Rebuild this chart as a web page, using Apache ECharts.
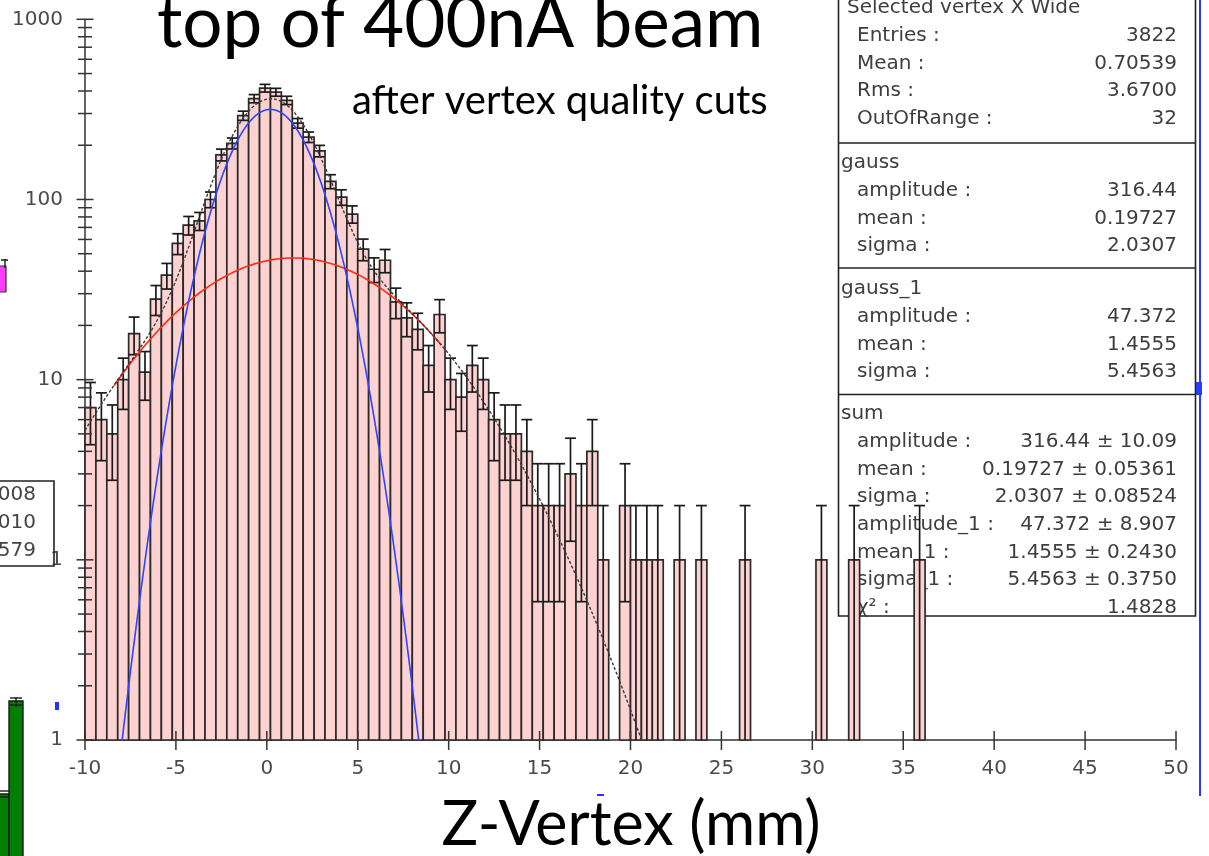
<!DOCTYPE html>
<html>
<head>
<meta charset="utf-8">
<title>Z-Vertex (mm)</title>
<script src="https://cdn.jsdelivr.net/npm/echarts@6/dist/echarts.min.js"></script>
<style>
  html, body { margin: 0; padding: 0; background: #ffffff; }
  #chart { width: 1209px; height: 856px; }
</style>
</head>
<body>
<div id="chart"></div>
<script>
// ---- Histogram: selected vertex z, 100 bins of 0.6 mm between -10 and 50 mm ----
const binStart = -10;
const binWidth = 0.6;
const counts = [
  7, 6, 5, 10, 18, 11, 28, 38, 57, 72,
  76, 100, 177, 205, 292, 363, 415, 394, 355, 265,
  222, 186, 126, 103, 83, 53, 41, 46, 27, 22,
  19, 12, 23, 10, 8, 12, 10, 6, 5, 5,
  4, 2, 2, 2, 3, 2, 4, 1, 0, 2,
  1, 1, 1, 0, 1, 0, 1, 0, 0, 0,
  1, 0, 0, 0, 0, 0, 0, 1, 0, 0,
  1, 0, 0, 0, 0, 0, 1, 0, 0, 0,
  0, 0, 0, 0, 0, 0, 0, 0, 0, 0,
  0, 0, 0, 0, 0, 0, 0, 0, 0, 0
];

// ---- Fit results: [amplitude, mean, sigma] ----
const gaussFit = [316.44, 0.19727, 2.0307];
const gauss1Fit = [47.372, 1.4555, 5.4563];

// ---- Axes ----
const xTicks = [-10, -5, 0, 5, 10, 15, 20, 25, 30, 35, 40, 45, 50];
const yDecades = [0.1, 1, 10, 100, 1000];
const xRange = [-10, 50];
const yRange = [0.1, 1000];
// x span over which each fitted curve is drawn
const sumSpan = [-10, 50];
const gaussSpan = [-10, 50];
const gauss1Span = [-8.4, 9.6];

// ---- Statistics box text ----
const statsHeader = 'Selected vertex X Wide';
const statsRows = [['Entries :', '3822'], ['Mean :', '0.70539'], ['Rms :', '3.6700'], ['OutOfRange :', '32']];
const gaussRows = [['amplitude :', '316.44'], ['mean :', '0.19727'], ['sigma :', '2.0307']];
const gauss1Rows = [['amplitude :', '47.372'], ['mean :', '1.4555'], ['sigma :', '5.4563']];
const sumRows = [
  ['amplitude :', '316.44 ± 10.09'],
  ['mean :', '0.19727 ± 0.05361'],
  ['sigma :', '2.0307 ± 0.08524'],
  ['amplitude_1 :', '47.372 ± 8.907'],
  ['mean_1 :', '1.4555 ± 0.2430'],
  ['sigma_1 :', '5.4563 ± 0.3750'],
  ['χ² :', '1.4828']
];

// ---- Derived series data ----
const histData = [];
counts.forEach(function (n, i) {
  if (n > 0) histData.push([binStart + i * binWidth, binStart + (i + 1) * binWidth, n]);
});

function gaussian(p, x) {
  const t = (x - p[1]) / p[2];
  return p[0] * Math.exp(-0.5 * t * t);
}
// evaluate a fitted function on a 0.05 mm step inside its span
function curve(fn, span) {
  const pts = [];
  const steps = Math.round((span[1] - span[0]) / 0.05);
  for (let k = 0; k <= steps; k++) {
    const x = span[0] + k * 0.05;
    const y = fn(x);
    if (y >= 0.02) pts.push([x, y]);
  }
  return pts;
}
const blueCurve = curve(function (x) { return gaussian(gaussFit, x); }, gaussSpan);
const redCurve = curve(function (x) { return gaussian(gauss1Fit, x); }, gauss1Span);
const sumCurve = curve(function (x) { return gaussian(gaussFit, x) + gaussian(gauss1Fit, x); }, sumSpan);

const yMinorTicks = [];
yDecades.slice(0, -1).forEach(function (d) {
  for (let m = 2; m <= 9; m++) yMinorTicks.push(d * m);
});
const yTickData = yDecades.map(function (v) { return [xRange[0], v, 1]; })
  .concat(yMinorTicks.map(function (v) { return [xRange[0], v, 0]; }));
const xTickData = xTicks.map(function (v) { return [v, yRange[0]]; });

// ---- Styles ----
const BAR_FILL = '#ffd2d2';
const BAR_EDGE = '#2a2a2a';
const INK = '#1a1a1a';
const AXIS = '#333333';
const LABEL = '#4a4a4a';
const statFont = '20px "DejaVu Sans"';

function renderBin(params, api) {
  const x0 = api.value(0), x1 = api.value(1), n = api.value(2);
  const top = api.coord([x0, n]);
  const base = api.coord([x1, yRange[0]]);
  const err = Math.sqrt(n);
  const xc = (x0 + x1) / 2;
  const hi = api.coord([xc, n + err]);
  const lo = api.coord([xc, Math.max(n - err, yRange[0])]);
  const left = top[0], right = base[0];
  const lineStyle = { stroke: INK, lineWidth: 1.7 };
  const children = [
    { type: 'rect', shape: { x: left, y: top[1], width: right - left, height: base[1] - top[1] },
      style: { fill: BAR_FILL, stroke: BAR_EDGE, lineWidth: 1.7 } },
    { type: 'line', shape: { x1: hi[0], y1: hi[1], x2: lo[0], y2: lo[1] }, style: lineStyle },
    { type: 'line', shape: { x1: left, y1: hi[1], x2: right, y2: hi[1] }, style: lineStyle }
  ];
  if (n - err > yRange[0]) {
    children.push({ type: 'line', shape: { x1: left, y1: lo[1], x2: right, y2: lo[1] }, style: lineStyle });
  }
  return { type: 'group', children: children };
}

function renderYTick(params, api) {
  const p = api.coord([api.value(0), api.value(1)]);
  const half = api.value(2) ? 8.5 : 7;
  return { type: 'line', shape: { x1: p[0] - half, y1: p[1], x2: p[0] + half, y2: p[1] },
           style: { stroke: AXIS, lineWidth: 1.5 } };
}
function renderXTick(params, api) {
  const p = api.coord([api.value(0), api.value(1)]);
  return { type: 'line', shape: { x1: p[0], y1: p[1] - 9, x2: p[0], y2: p[1] + 10 },
           style: { stroke: AXIS, lineWidth: 1.5 } };
}

// ---- Graphic: statistics box, titles and the edges of neighbouring panels ----
const graphics = [];
function txt(text, x, y, font, fill, align, z) {
  graphics.push({ type: 'text', silent: true, z: z || 1,
    style: { text: text, x: x, y: y, font: font, fill: fill, textAlign: align || 'left', textVerticalAlign: 'middle' } });
}
function seg(x1, y1, x2, y2, color, w, z) {
  graphics.push({ type: 'line', silent: true, z: z || 1,
    shape: { x1: x1, y1: y1, x2: x2, y2: y2 }, style: { stroke: color, lineWidth: w } });
}
function box(x, y, w, h, fill, stroke, lw, z) {
  graphics.push({ type: 'rect', silent: true, z: z || 1,
    shape: { x: x, y: y, width: w, height: h }, style: { fill: fill, stroke: stroke, lineWidth: lw } });
}

const boxL = 838.5, boxR = 1195.5, labelX = 857, valueX = 1177, pitch = 27.7;
const STAT_INK = '#3e3e3e';
box(boxL, -2, boxR - boxL, 618, 'rgba(0,0,0,0)', '#222', 1.6, 1);
seg(boxL, 143, boxR, 143, '#222', 1.6);
seg(boxL, 268, boxR, 268, '#222', 1.6);
seg(boxL, 394.5, boxR, 394.5, '#222', 1.6);

function section(header, hx, hy, rows) {
  txt(header, hx, hy, statFont, STAT_INK);
  rows.forEach(function (r, i) {
    const y = hy + pitch * (i + 1);
    txt(r[0], labelX, y, statFont, STAT_INK, 'left');
    txt(r[1], valueX, y, statFont, STAT_INK, 'right');
  });
}
section(statsHeader, 847, 8, statsRows);
section('gauss', 841, 163, gaussRows);
section('gauss_1', 841, 289, gauss1Rows);
section('sum', 841, 414, sumRows);

// titles
txt('top of 400nA beam', 157, 24, '71px Lato', '#000', 'left', 10);
txt('after vertex quality cuts', 352, 101, '40px Lato', '#000', 'left', 10);
txt('Z-Vertex (mm)', 631, 825, '61px Lato', '#000', 'center', 10);

// neighbouring panel edges
box(-2, 266, 8, 26, '#ff3cff', '#333', 1.2);
seg(5, 259, 5, 268, '#222', 1.5);
seg(1, 260, 8, 260, '#222', 1.5);
box(-2, 481, 56, 85, 'rgba(0,0,0,0)', '#222', 1.6);
txt('008', 36, 495, statFont, '#444', 'right');
txt('010', 36, 523, statFont, '#444', 'right');
txt('579', 36, 551, statFont, '#444', 'right');
box(-2, 794, 11, 70, '#008000', '#1a1a1a', 1.4);
box(9, 701, 14, 163, '#008000', '#1a1a1a', 1.4);
seg(0, 791, 9, 791, '#1a1a1a', 1.4);
seg(0, 797, 9, 797, '#1a1a1a', 1.4);
seg(10, 698, 22, 698, '#1a1a1a', 1.4);
seg(10, 705, 22, 705, '#1a1a1a', 1.4);
seg(16, 697, 16, 707, '#1a1a1a', 1.4);
box(55, 702, 4, 8, '#2233ff', null, 0);
seg(597, 795, 604, 795, '#2233ff', 2);
seg(1200, 0, 1200, 796, '#2a3cff', 2);
box(1196, 382, 6, 13, '#2a3cff', null, 0);

const chart = echarts.init(document.getElementById('chart'), null, { renderer: 'canvas' });
chart.setOption({
  animation: false,
  backgroundColor: '#ffffff',
  grid: { left: 85, right: 33, top: 19.3, bottom: 116, containLabel: false, outerBoundsMode: 'none' },
  xAxis: {
    type: 'value', min: xRange[0], max: xRange[1], interval: 5,
    axisLine: { show: true, onZero: false, lineStyle: { color: AXIS, width: 1.5 } },
    axisTick: { show: false },
    splitLine: { show: false },
    axisLabel: { color: LABEL, fontFamily: 'DejaVu Sans', fontSize: 20, margin: 19 }
  },
  yAxis: {
    type: 'log', logBase: 10, min: yRange[0], max: yRange[1],
    axisLine: { show: true, onZero: false, lineStyle: { color: AXIS, width: 1.5 } },
    axisTick: { show: false },
    splitLine: { show: false },
    axisLabel: {
      color: LABEL, fontFamily: 'DejaVu Sans', fontSize: 20, margin: 22,
      formatter: function (v) { return v < 1 ? '1' : String(Math.round(v)); }
    }
  },
  graphic: { elements: graphics },
  series: [
    { type: 'custom', name: 'histogram', renderItem: renderBin, data: histData, z: 3, silent: true },
    { type: 'line', name: 'gauss_1', data: redCurve, showSymbol: false, z: 4, silent: true,
      lineStyle: { color: '#ff2a10', width: 1.6 } },
    { type: 'line', name: 'gauss', data: blueCurve, showSymbol: false, z: 4, silent: true,
      lineStyle: { color: '#2a46ff', width: 1.6 } },
    { type: 'line', name: 'sum', data: sumCurve, showSymbol: false, z: 5, silent: true,
      lineStyle: { color: '#3a3a3a', width: 1.4, type: [3, 2] } },
    { type: 'custom', name: 'y ticks', renderItem: renderYTick, data: yTickData, z: 6, silent: true, clip: false },
    { type: 'custom', name: 'x ticks', renderItem: renderXTick, data: xTickData, z: 6, silent: true, clip: false }
  ]
});
</script>
</body>
</html>
